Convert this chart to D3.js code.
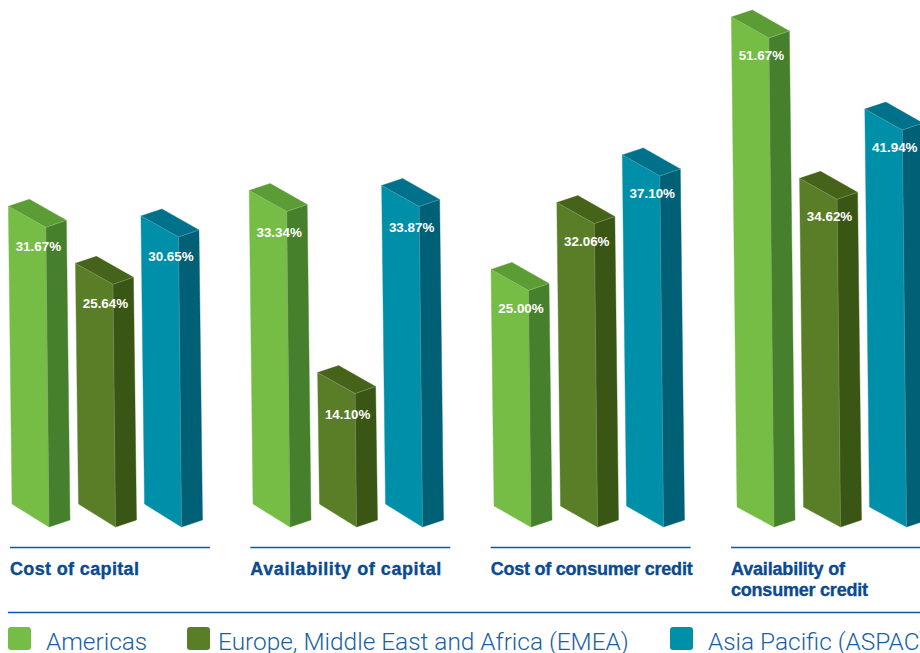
<!DOCTYPE html>
<html><head><meta charset="utf-8">
<script src="https://cdn.jsdelivr.net/npm/d3@7/dist/d3.min.js"></script>
<style>html,body{margin:0;padding:0;background:#fff;overflow:hidden}svg{display:block}</style>
</head><body><div id="chart"></div>
<script>
const categories = ["Cost of capital","Availability of capital","Cost of consumer credit","Availability of consumer credit"];
const categoryLines = [["Cost of capital"],["Availability of capital"],["Cost of consumer credit"],["Availability of","consumer credit"]];
const seriesNames = ["Americas","Europe, Middle East and Africa (EMEA)","Asia Pacific (ASPAC)"];
const americas = [31.67,33.34,25.00,51.67];
const emea = [25.64,14.10,32.06,34.62];
const aspac = [30.65,33.87,37.10,41.94];
const seriesValues = [americas,emea,aspac];
const frontColors = ["#76bd45","#5a7e27","#008fa9"];
const sideColors = ["#47802c","#3a5614","#006076"];
const topColors = ["#5b9c35","#466419","#00718b"];

const W=920,H=653;
const svg=d3.select("#chart").append("svg").attr("width",W).attr("height",H);
const base=527;
const y=d3.scaleLinear().domain([0,51.67]).range([base,38]);
const x0=d3.scaleOrdinal().domain(categories).range([49,290,531,774]);
const x1=d3.scaleOrdinal().domain(seriesNames).range([0,66.5,132.5]);
const rule0=d3.scalePoint().domain(categories).range([10,731]);
const baseDrop=d3.scaleOrdinal().domain(categories).range([23,23,21,20]);
const labelDrop=d3.scaleOrdinal().domain(categories).range([19,21,18,17]);
const titleWidth=new Map([["Cost of capital",129],["Availability of capital",191],["Cost of consumer credit",202],["Availability of",114],["consumer credit",137]]);

categories.forEach((c,ci)=>{
  seriesNames.forEach((s,si)=>{
    const v=seriesValues[si][ci];
    const bx=x0(c)+x1(s), ty=y(v), h=base-ty;
    const tx=bx-h*0.0105;
    const drop=baseDrop(c);
    const pts={
      fl:[bx-37,base-drop], fv:[bx,base], fr:[bx+21,base-7],
      tl:[tx-37.5,ty-21], tv:[tx,ty], tr:[tx+20.5,ty-7], tb:[tx-16.5,ty-28]
    };
    const g=svg.append("g");
    const poly=(arr,fill)=>g.append("path").attr("d",d3.line()(arr)+"Z").attr("fill",fill)
      .attr("stroke",fill).attr("stroke-width",0.4).attr("stroke-linejoin","round");
    poly([pts.tl,pts.tv,pts.fv,pts.fl],frontColors[si]);
    poly([pts.tv,pts.tr,pts.fr,pts.fv],sideColors[si]);
    poly([pts.tl,pts.tb,pts.tr,pts.tv],topColors[si]);
    g.append("path").attr("d",d3.line()([pts.tl,pts.tv,pts.tr])+"M"+pts.tv+"L"+pts.fv)
      .attr("fill","none").attr("stroke","#fff").attr("stroke-opacity",0.28).attr("stroke-width",0.7);
    g.append("text").attr("x",tx-7.5).attr("y",ty+labelDrop(c)+4.6).attr("text-anchor","middle")
      .attr("font-family","Liberation Sans").attr("font-weight",700).attr("font-size",13.4)
      .attr("fill","#fff").text(v.toFixed(2)+"%");
  });
  const rx=rule0(c);
  svg.append("line").attr("x1",rx).attr("x2",Math.min(rx+200,W)).attr("y1",547.5).attr("y2",547.5)
    .attr("stroke","#0a5aa8").attr("stroke-width",1.3);
  categoryLines[ci].forEach((t,li)=>{
    svg.append("text").attr("x",rx).attr("y",575+li*21).attr("font-family","Liberation Sans")
      .attr("font-weight",700).attr("font-size",18).attr("stroke","#0a4a8f").attr("stroke-width",0.35)
      .attr("textLength",titleWidth.get(t)).attr("lengthAdjust","spacing")
      .attr("fill","#0a4a8f").text(t);
  });
});

svg.append("line").attr("x1",8).attr("x2",W).attr("y1",612.5).attr("y2",612.5)
  .attr("stroke","#0a5aa8").attr("stroke-width",1.4);

const legendX=d3.scaleOrdinal().domain(seriesNames).range([8,187,670]);
const legendTextX=d3.scaleOrdinal().domain(seriesNames).range([46,218,708]);
seriesNames.forEach((s,si)=>{
  svg.append("rect").attr("x",legendX(s)).attr("y",627).attr("width",23).attr("height",23).attr("rx",3)
    .attr("fill",frontColors[si]);
  svg.append("text").attr("x",legendTextX(s)).attr("y",649.5).attr("font-family","Roboto")
    .attr("font-weight",300).attr("font-size",24.4).attr("fill","#1a5fa3").text(s);
});
</script></body></html>
